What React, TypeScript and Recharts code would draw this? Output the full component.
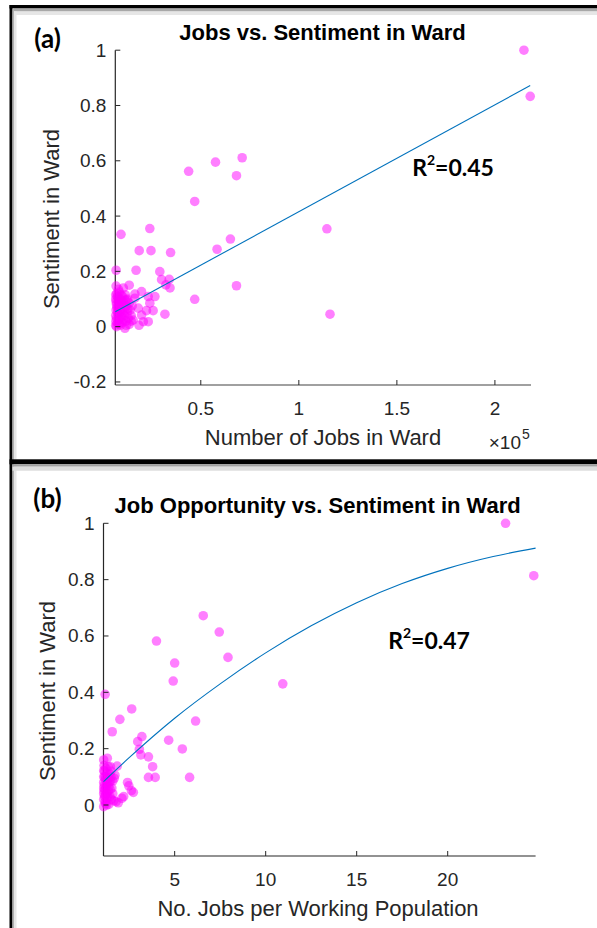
import React from "react";
import { ScatterChart, Scatter, XAxis, YAxis } from "recharts";

// (a) number of jobs in ward vs sentiment
const jobsA = [
  214800, 218000, 71100, 57500, 43800, 68200, 46900, 114300, 115900, 68200, 46900, 65100, 58300,
  9300, 24000, 18600, 24600, 34600, 6800, 17000, 29100, 30000, 33900, 32200, 34300,
  6800, 13500, 10500, 19800, 23200, 26600, 16400, 24000, 22300, 25700, 31700, 19800, 20700,
  15500, 18100, 12200, 8800, 16400, 23200, 11300, 18500,
  6600, 7000, 6800, 6600, 6700, 6600, 7500, 8000, 7800, 8200, 8000, 8500, 9000, 9500, 9200,
  9800, 10000, 10500, 11000, 11200, 11800, 12000, 12500, 13000, 13500, 14000, 14500, 15000,
  7200, 8500, 10000, 11500, 12700, 13500, 14500, 7000,
  6800, 7200, 7500, 7000, 7400, 7800, 8300, 8800, 8700, 9000, 9500, 10000, 10400, 10800, 11500,
  12000, 12800, 6600, 8000, 9300,
];
const sentA = [
  1.0, 0.833, 0.611, 0.595, 0.562, 0.546, 0.453, 0.354, 0.045, 0.148, 0.099, 0.317, 0.28,
  0.334, 0.355, 0.275, 0.275, 0.268, 0.204, 0.204, 0.199, 0.17, 0.171, 0.151, 0.14,
  0.147, 0.15, 0.14, 0.127, 0.109, 0.109, 0.118, 0.085, 0.058, 0.058, 0.045, 0.042, 0.018,
  0.024, 0.067, 0.097, 0.09, 0.103, 0.018, -0.006, 0.005,
  0.1, 0.08, 0.06, 0.04, 0.02, 0.005, 0.11, 0.09, 0.065, 0.045, 0.025, 0.01, 0.1, 0.075, 0.055,
  0.035, 0.015, 0.09, 0.06, 0.04, 0.02, 0.075, 0.05, 0.03, 0.085, 0.06, 0.04, 0.075,
  0.12, 0.125, 0.11, 0.115, 0.1, 0.008, 0.02, 0.0,
  0.09, 0.07, 0.05, 0.03, 0.012, 0.1, 0.075, 0.06, 0.03, 0.005, 0.095, 0.05, 0.025, 0.075, 0.095,
  0.005, 0.065, 0.115, 0.135, 0.115,
];
const fitJobsA = [6400, 218000];
const fitSentA = [0.054, 0.872];

// (b) jobs per working population vs sentiment
const jobsPerPopB = [
  23.18, 24.73, 6.57, 7.45, 7.93, 10.94, 4.0, 5.0, 4.92, 1.18, 2.64, 1.99, 1.57, 6.15, 4.67, 5.42,
  5.82, 3.56, 3.93, 3.79, 3.56, 3.2, 2.97, 3.06, 3.14, 1.3, 1.1, 1.1, 1.47, 1.84, 1.68, 2.41,
  2.62, 2.48, 2.73, 2.2, 2.1, 1.78, 1.26, 1.9, 1.38, 1.1, 1.72, 1.35,
  1.1, 1.12, 1.1, 1.15, 1.2, 1.25, 1.2, 1.3, 1.35, 1.4, 1.45, 1.5, 1.55, 1.6, 1.18, 1.28, 1.5,
  1.12, 1.6, 1.1, 1.22, 1.42, 1.3, 1.65,
  1.1, 1.13, 1.15, 1.18, 1.2, 1.22, 1.25, 1.28, 1.32, 1.35, 1.38, 1.45, 1.48, 1.52, 1.15, 1.1,
];
const sentB = [
  1.0, 0.814, 0.672, 0.614, 0.524, 0.43, 0.582, 0.504, 0.44, 0.393, 0.341, 0.304, 0.26, 0.298, 0.23, 0.199,
  0.098, 0.098, 0.098, 0.136, 0.171, 0.243, 0.225, 0.198, 0.178, 0.166, 0.16, 0.122, 0.136, 0.138, 0.095, 0.08,
  0.051, 0.068, 0.045, 0.03, 0.024, 0.012, 0.0, 0.008, 0.002, -0.006, 0.106, 0.136,
  0.02, 0.05, 0.08, 0.1, 0.035, 0.065, 0.09, 0.11, 0.05, 0.08, 0.03, 0.1, 0.06, 0.04, 0.012, 0.02, 0.12,
  0.14, 0.085, 0.06, 0.13, 0.11, 0.085, 0.015,
  0.04, 0.07, 0.12, 0.055, 0.005, 0.1, 0.04, 0.075, 0.03, 0.095, 0.065, 0.055, 0.085, 0.02, 0.03, 0.1,
];
const fitXB = [1.09, 2.5, 5, 7.5, 10, 12.5, 15, 17.5, 20, 22.5, 24.83];
const fitYB = [0.083, 0.168, 0.308, 0.43, 0.54, 0.636, 0.718, 0.786, 0.84, 0.882, 0.912];

const ticksXA = [50000, 100000, 150000, 200000];
const ticksYA = [-0.2, 0, 0.2, 0.4, 0.6, 0.8, 1];
const ticksXB = [5, 10, 15, 20];
const ticksYB = [0, 0.2, 0.4, 0.6, 0.8, 1];

const pts = (xs: number[], ys: number[]) => xs.map((x, i) => ({ x, y: ys[i] }));

const AX = "#262626";
const FONT = "'Liberation Sans', Arial, Helvetica, sans-serif";

const Dot = (p: any) => <circle cx={p.cx} cy={p.cy} r={4.8} fill="#ff00ff" fillOpacity={0.5} />;
const NoDot = () => <g />;

const fmt1 = (v: number) => String(Math.round(v * 10) / 10);

const XTick = ({ x, y, payload, scale }: any) => (
  <g>
    <line x1={x} x2={x} y1={y} y2={y - 5} stroke={AX} strokeWidth={1} />
    <text x={x} y={y + 23} textAnchor="middle" dominantBaseline="central" fill={AX} fontSize={19} fontFamily={FONT}>
      {fmt1(payload.value / (scale || 1))}
    </text>
  </g>
);

const YTick = ({ x, y, payload }: any) => (
  <g>
    <line x1={x} x2={x + 5} y1={y} y2={y} stroke={AX} strokeWidth={1} />
    <text x={x - 9} y={y} textAnchor="end" dominantBaseline="central" fill={AX} fontSize={19} fontFamily={FONT}>
      {fmt1(payload.value)}
    </text>
  </g>
);

const R2 = ({ x, y, v }: { x: number; y: number; v: string }) => (
  <text x={x} y={y} textAnchor="middle" dominantBaseline="central" fontFamily="Lato, 'Open Sans', sans-serif" fontWeight="bold" fontSize={23} fill="#000">
    R<tspan fontSize={14} dy={-8}>2</tspan>
    <tspan dy={8}>={v}</tspan>
  </text>
);

export default function App() {
  const dataA = pts(jobsA, sentA);
  const lineA = pts(fitJobsA, fitSentA);
  const dataB = pts(jobsPerPopB, sentB);
  const lineB = pts(fitXB, fitYB);

  return (
    <div style={{ position: "absolute", left: 0, top: 0, width: 597, height: 928, background: "#fff", overflow: "hidden" }}>
      <svg width={597} height={928} style={{ position: "absolute", left: 0, top: 0 }}>
        {/* frames */}
        <rect x={9.5} y={5} width={588} height={3.5} fill="#000" />
        <rect x={12.5} y={8.5} width={585} height={3} fill="#a8a8a8" />
        <rect x={12.5} y={11.5} width={585} height={3.5} fill="#e6e6e6" />
        <rect x={9.5} y={5} width={3} height={923} fill="#000" />
        <rect x={12.5} y={8.5} width={1.5} height={920} fill="#b0b0b0" />
        <rect x={14} y={11.5} width={2.5} height={917} fill="#e6e6e6" />
        <rect x={9.5} y={459.3} width={588} height={5} fill="#000" />
        <rect x={12.5} y={464.3} width={585} height={2.4} fill="#a0a0a0" />
        <rect x={12.5} y={466.7} width={585} height={4} fill="#dcdcdc" />

        {/* panel (a) text */}
        <text x={47.6} y={37.5} textAnchor="middle" dominantBaseline="central" fontFamily="Lato, 'Open Sans', sans-serif" fontWeight="bold" fontSize={26}>(a)</text>
        <text x={322.5} y={32.3} textAnchor="middle" dominantBaseline="central" fontFamily={FONT} fontWeight="bold" fontSize={22}>Jobs vs. Sentiment in Ward</text>
        <text x={323} y={437.3} textAnchor="middle" dominantBaseline="central" fontFamily={FONT} fontSize={22} fill={AX}>Number of Jobs in Ward</text>
        <text x={521} y={449} textAnchor="end" fontFamily={FONT} fontSize={19} fill={AX}>×10</text>
        <text x={522} y={439} fontFamily={FONT} fontSize={14} fill={AX}>5</text>
        <text x={51.5} y={219} textAnchor="middle" dominantBaseline="central" fontFamily={FONT} fontSize={22} fill={AX} transform="rotate(-90 51.5 219)">Sentiment in Ward</text>
        <R2 x={453} y={167} v="0.45" />

        {/* panel (b) text */}
        <text x={47.5} y={497.5} textAnchor="middle" dominantBaseline="central" fontFamily="Lato, 'Open Sans', sans-serif" fontWeight="bold" fontSize={26}>(b)</text>
        <text x={317.7} y={505} textAnchor="middle" dominantBaseline="central" fontFamily={FONT} fontWeight="bold" fontSize={22}>Job Opportunity vs. Sentiment in Ward</text>
        <text x={318} y={908.3} textAnchor="middle" dominantBaseline="central" fontFamily={FONT} fontSize={22} fill={AX}>No. Jobs per Working Population</text>
        <text x={47.6} y={691} textAnchor="middle" dominantBaseline="central" fontFamily={FONT} fontSize={22} fill={AX} transform="rotate(-90 47.6 691)">Sentiment in Ward</text>
        <R2 x={429} y={640} v="0.47" />
      </svg>

      <div style={{ position: "absolute", left: 0, top: 0 }}>
        <ScatterChart width={597} height={460} margin={{ top: 50.2, right: 66, bottom: 35, left: 55.3 }}>
          <XAxis
            type="number"
            dataKey="x"
            domain={[6400, 218400]}
            ticks={ticksXA}
            interval={0}
            height={40}
            tickSize={0}
            tickMargin={0}
            tickLine={false}
            axisLine={{ stroke: "#808080", strokeWidth: 1.5 }}
            tick={<XTick scale={100000} />}
          />
          <YAxis
            type="number"
            dataKey="y"
            domain={[-0.211, 1]}
            ticks={ticksYA}
            interval={0}
            width={60}
            tickSize={0}
            tickMargin={0}
            tickLine={false}
            axisLine={{ stroke: AX, strokeWidth: 1.2 }}
            tick={<YTick />}
          />
          <Scatter data={dataA} shape={Dot} isAnimationActive={false} />
          <Scatter
            data={lineA}
            shape={NoDot}
            line={{ stroke: "#0072bd", strokeWidth: 1.1 }}
            lineType="joint"
            isAnimationActive={false}
          />
        </ScatterChart>
      </div>

      <div style={{ position: "absolute", left: 0, top: 460 }}>
        <ScatterChart width={597} height={468} margin={{ top: 63.3, right: 61.4, bottom: 32, left: 43.5 }}>
          <XAxis
            type="number"
            dataKey="x"
            domain={[1.09, 24.83]}
            ticks={ticksXB}
            interval={0}
            height={40}
            tickSize={0}
            tickMargin={0}
            tickLine={false}
            axisLine={{ stroke: AX, strokeWidth: 1.2 }}
            tick={<XTick scale={1} />}
          />
          <YAxis
            type="number"
            dataKey="y"
            domain={[-0.181, 1]}
            ticks={ticksYB}
            interval={0}
            width={60}
            tickSize={0}
            tickMargin={0}
            tickLine={false}
            axisLine={{ stroke: AX, strokeWidth: 1.2 }}
            tick={<YTick />}
          />
          <Scatter data={dataB} shape={Dot} isAnimationActive={false} />
          <Scatter
            data={lineB}
            shape={NoDot}
            line={{ stroke: "#0072bd", strokeWidth: 1.1 }}
            lineType="joint"
            lineJointType="monotoneX"
            isAnimationActive={false}
          />
        </ScatterChart>
      </div>
    </div>
  );
}
